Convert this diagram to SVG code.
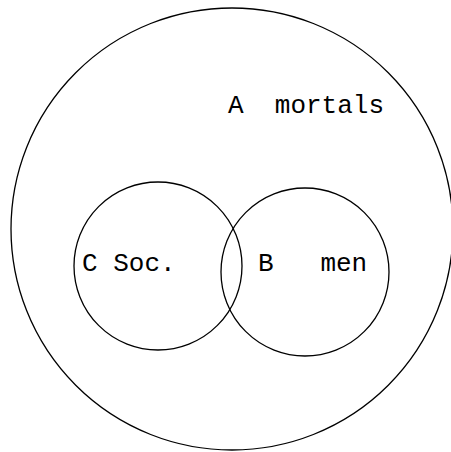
<svg xmlns="http://www.w3.org/2000/svg" width="451" height="452" viewBox="0 0 451 452">
<style>
.c{fill:none;stroke:#000;stroke-width:1.3}
.t{font-family:"Liberation Mono","Courier New",monospace;font-size:26px;fill:#000;white-space:pre}
</style>
<rect width="451" height="452" fill="#fff"/>
<g id="A"><circle class="c" cx="232" cy="229" r="221"/><text class="t" x="228" y="113" xml:space="preserve">A  mortals</text></g>
<g id="C"><circle class="c" cx="158" cy="266" r="84"/><text class="t" x="82" y="271" xml:space="preserve">C Soc.</text></g>
<g id="B"><circle class="c" cx="305" cy="272" r="84"/><text class="t" x="258" y="271" xml:space="preserve">B   men</text></g>
<g id="connectors"/>
</svg>
